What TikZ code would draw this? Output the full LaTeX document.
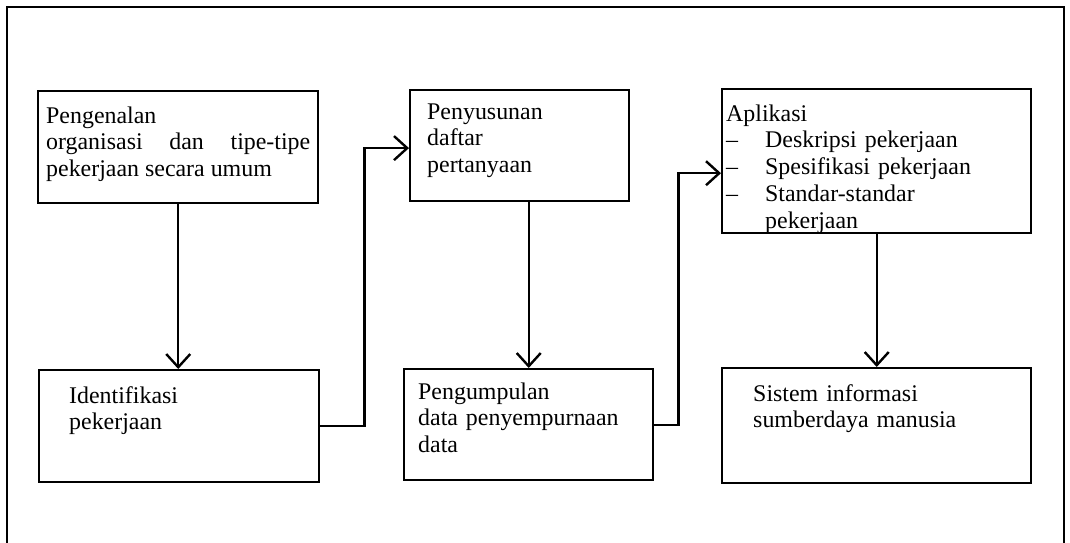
\documentclass[tikz,border=0pt]{standalone}
\usepackage{fontspec}
\setmainfont{Liberation Serif}
\usetikzlibrary{arrows.meta, positioning}

\begin{document}
\begin{tikzpicture}[
    x=0.025cm, y=-0.025cm,
    box/.style={
        draw,
        line width=1.7pt,
        anchor=north west,
        align=left,
        inner ysep=0pt,
        font=\fontsize{17}{19}\selectfont
    },
    flow/.style={
        line width=1.7pt,
        -{Straight Barb[length=0.33cm, width=0.6cm, line width=1.7pt]}
    },
    frame/.style={
        line width=1.7pt
    }
]
\useasboundingbox (0,0) rectangle (1070,543);

% Outer frame (cut off at the bottom)
\draw[frame] (7,543) -- (7,7) -- (1064,7) -- (1064,543);

% Top row
\node[box, align=justify, text width=6.6cm, inner xsep=0.2cm,
      text height=0.8cm, text depth=2.0cm] (pengenalan) at (37,90)
    {Pengenalan\\ organisasi dan tipe-tipe\linebreak pekerjaan secara umum};
\node[box, text width=4.625cm, inner xsep=0.425cm,
      text height=0.725cm, text depth=2.05cm] (penyusunan) at (409,89)
    {Penyusunan\\ daftar\\ pertanyaan};
\node[box, text width=7.525cm, inner xsep=0.1cm,
      text height=0.8cm, text depth=2.8cm] (aplikasi) at (721,88)
    {Aplikasi\\
     \makebox[0.975cm][l]{\textendash}Deskripsi pekerjaan\\
     \makebox[0.975cm][l]{\textendash}Spesifikasi pekerjaan\\
     \makebox[0.975cm][l]{\textendash}Standar-standar\\
     \hspace*{0.975cm}pekerjaan};

% Bottom row
\node[box, text width=5.5cm, inner xsep=0.75cm,
      text height=0.825cm, text depth=1.975cm] (identifikasi) at (38,369)
    {Identifikasi\\ pekerjaan};
\node[box, text width=5.525cm, inner xsep=0.35cm,
      text height=0.75cm, text depth=2.025cm] (pengumpulan) at (403,368)
    {Pengumpulan\\ data penyempurnaan\\ data};
\node[box, text width=6.175cm, inner xsep=0.775cm,
      text height=0.825cm, text depth=2.05cm] (sistem) at (721,367)
    {Sistem informasi\\ sumberdaya manusia};

% Connectors
\draw[flow] (pengenalan.south) -- (pengenalan.south |- identifikasi.north);
\draw[flow] (identifikasi.east) -- ++(44,0) |- ([yshift=-0.06cm]penyusunan.west);
\draw[flow] (pengumpulan.north |- penyusunan.south) -- (pengumpulan.north);
\draw[flow] (pengumpulan.east) -- ++(24,0) |- ([yshift=-0.3cm]aplikasi.west);
\draw[flow] (aplikasi.south -| sistem.north) -- (sistem.north);
\end{tikzpicture}
\end{document}
